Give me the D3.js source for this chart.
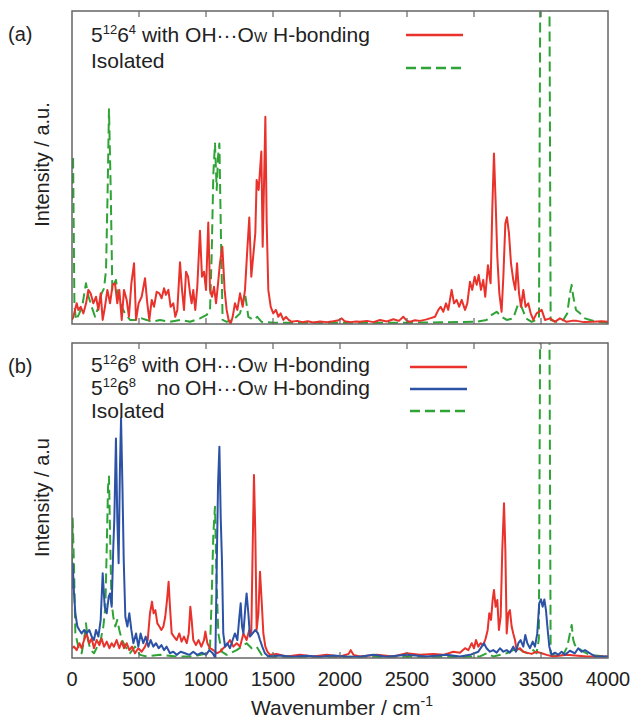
<!DOCTYPE html>
<html>
<head>
<meta charset="utf-8">
<script src="https://cdn.jsdelivr.net/npm/d3@7"></script>
<style>
  body { margin: 0; background: #fff; }
  svg text { font-family: "Liberation Sans", Arial, sans-serif; fill: #222; }
</style>
</head>
<body>
<div id="chart"></div>
<script>
// tick values on the wavenumber axis
var xTicks = [0, 500, 1000, 1500, 2000, 2500, 3000, 3500, 4000];

// spectra: [wavenumber (cm-1), intensity (fraction of panel height)]
// panel (a)
var redA = [[0,0.013],[10,0.023],[35,0.066],[47,0.045],[65,0.055],[85,0.034],[105,0.066],[122,0.109],[139,0.098],[159,0.066],[179,0.087],[197,0.045],[214,0.098],[229,0.013],[246,0.055],[264,0.109],[284,0.066],[303,0.125],[321,0.130],[338,0.066],[353,0.109],[371,0.013],[388,0.109],[408,0.077],[425,0.023],[443,0.130],[463,0.194],[478,0.013],[497,0.066],[520,0.087],[545,0.146],[562,0.066],[577,0.013],[595,0.077],[612,0.055],[632,0.103],[652,0.098],[669,0.082],[687,0.114],[701,0.093],[719,0.109],[736,0.055],[756,0.066],[771,0.023],[786,0.045],[806,0.197],[821,0.109],[836,0.045],[851,0.167],[866,0.151],[881,0.098],[893,0.066],[905,0.109],[920,0.045],[935,0.119],[955,0.298],[970,0.151],[985,0.167],[1000,0.109],[1017,0.324],[1030,0.109],[1045,0.087],[1060,0.119],[1075,0.066],[1090,0.130],[1104,0.194],[1122,0.247],[1139,0.109],[1154,0.045],[1169,0.013],[1184,0.0],[1199,0.023],[1216,0.066],[1234,0.045],[1254,0.098],[1274,0.055],[1291,0.109],[1308,0.236],[1323,0.340],[1338,0.151],[1353,0.220],[1368,0.290],[1378,0.460],[1393,0.428],[1403,0.492],[1413,0.551],[1423,0.247],[1433,0.449],[1443,0.662],[1453,0.322],[1465,0.109],[1483,0.055],[1502,0.034],[1522,0.045],[1540,0.023],[1557,0.034],[1577,0.013],[1597,0.023],[1617,0.013],[1639,0.007],[1680,0.010],[1720,0.006],[1760,0.009],[1800,0.005],[1850,0.008],[1900,0.006],[1950,0.009],[1990,0.012],[2013,0.018],[2035,0.009],[2080,0.006],[2120,0.008],[2149,0.007],[2200,0.010],[2250,0.006],[2298,0.013],[2350,0.008],[2398,0.015],[2440,0.010],[2472,0.023],[2500,0.010],[2522,0.007],[2560,0.012],[2597,0.010],[2640,0.014],[2671,0.018],[2709,0.023],[2734,0.045],[2751,0.055],[2771,0.039],[2791,0.066],[2808,0.045],[2833,0.109],[2851,0.066],[2870,0.077],[2890,0.055],[2908,0.077],[2933,0.045],[2950,0.066],[2970,0.135],[2987,0.109],[3005,0.151],[3020,0.125],[3035,0.157],[3052,0.109],[3069,0.141],[3084,0.087],[3104,0.188],[3124,0.130],[3137,0.375],[3149,0.545],[3161,0.396],[3174,0.215],[3189,0.098],[3206,0.039],[3219,0.151],[3234,0.322],[3246,0.341],[3261,0.290],[3276,0.194],[3293,0.141],[3308,0.109],[3321,0.194],[3336,0.098],[3351,0.055],[3368,0.109],[3385,0.055],[3405,0.066],[3423,0.034],[3443,0.013],[3467,0.034],[3505,0.045],[3530,0.013],[3567,0.018],[3604,0.007],[3641,0.018],[3691,0.007],[3730,0.010],[3766,0.010],[3820,0.006],[3890,0.007],[3950,0.009],[4000,0.007]];

var greenA = [[0,0.40],[8,0.537],[18,0.06],[30,0.013],[55,0.034],[80,0.066],[104,0.130],[124,0.087],[147,0.055],[172,0.023],[197,0.055],[221,0.098],[239,0.114],[254,0.173],[266,0.428],[276,0.686],[289,0.428],[301,0.109],[316,0.130],[328,0.141],[346,0.087],[371,0.055],[395,0.034],[433,0.013],[483,0.013],[520,0.018],[557,0.013],[595,0.007],[657,0.013],[731,0.007],[806,0.013],[881,0.007],[955,0.018],[1005,0.029],[1030,0.045],[1042,0.215],[1055,0.481],[1067,0.577],[1080,0.428],[1090,0.535],[1100,0.577],[1112,0.268],[1124,0.013],[1154,0.007],[1204,0.013],[1254,0.034],[1291,0.098],[1316,0.023],[1353,0.013],[1383,0.023],[1415,0.007],[1502,0.004],[2000,0.004],[2500,0.004],[3020,0.007],[3094,0.013],[3132,0.029],[3169,0.039],[3206,0.023],[3244,0.013],[3293,0.018],[3331,0.066],[3355,0.055],[3388,0.018],[3430,0.007],[3467,0.013],[3485,0.02],[3503,2.0],[3555,2.0],[3572,0.013],[3617,0.007],[3666,0.013],[3696,0.034],[3716,0.098],[3729,0.125],[3741,0.087],[3761,0.045],[3791,0.034],[3828,0.018],[3866,0.013],[3915,0.007],[4000,0.004]];

// panel (b)
var redB = [[0,0.031],[15,0.036],[35,0.025],[55,0.047],[72,0.031],[90,0.057],[109,0.078],[129,0.047],[147,0.062],[164,0.031],[184,0.057],[204,0.041],[221,0.062],[239,0.036],[259,0.052],[279,0.031],[296,0.047],[313,0.036],[333,0.057],[353,0.031],[371,0.052],[388,0.031],[408,0.047],[428,0.025],[448,0.036],[470,0.015],[495,0.031],[520,0.020],[545,0.036],[565,0.057],[582,0.142],[597,0.179],[609,0.142],[622,0.152],[637,0.110],[652,0.100],[667,0.089],[682,0.100],[696,0.131],[709,0.184],[721,0.242],[731,0.163],[744,0.078],[761,0.068],[781,0.057],[801,0.078],[818,0.052],[836,0.068],[856,0.047],[871,0.078],[883,0.163],[893,0.121],[905,0.057],[925,0.041],[945,0.057],[965,0.036],[985,0.057],[995,0.084],[1010,0.047],[1030,0.031],[1055,0.025],[1080,0.015],[1104,0.020],[1129,0.031],[1154,0.041],[1179,0.057],[1204,0.036],[1229,0.047],[1254,0.036],[1279,0.078],[1303,0.057],[1323,0.089],[1338,0.078],[1348,0.343],[1358,0.581],[1368,0.396],[1378,0.089],[1391,0.142],[1403,0.274],[1415,0.184],[1428,0.078],[1443,0.036],[1458,0.020],[1478,0.010],[1527,0.013],[1602,0.005],[1701,0.010],[1801,0.005],[1900,0.010],[2000,0.005],[2065,0.013],[2080,0.025],[2100,0.010],[2149,0.005],[2273,0.010],[2398,0.005],[2497,0.015],[2597,0.010],[2696,0.013],[2771,0.010],[2846,0.020],[2895,0.017],[2933,0.031],[2958,0.025],[2983,0.047],[3000,0.031],[3015,0.057],[3032,0.036],[3050,0.047],[3069,0.041],[3087,0.062],[3102,0.089],[3114,0.142],[3127,0.121],[3139,0.184],[3149,0.216],[3161,0.163],[3174,0.184],[3186,0.089],[3199,0.131],[3211,0.343],[3224,0.491],[3234,0.343],[3244,0.078],[3256,0.142],[3268,0.152],[3281,0.100],[3293,0.078],[3306,0.057],[3318,0.025],[3343,0.031],[3368,0.020],[3393,0.017],[3430,0.013],[3467,0.020],[3505,0.015],[3542,0.010],[3592,0.005],[3691,0.010],[3840,0.005],[4000,0.005]];

var blueB = [[0,0.22],[5,0.301],[15,0.205],[25,0.142],[40,0.100],[55,0.089],[72,0.078],[90,0.089],[109,0.078],[129,0.089],[147,0.068],[164,0.057],[179,0.089],[197,0.068],[214,0.121],[229,0.269],[244,0.163],[259,0.142],[274,0.195],[284,0.205],[296,0.163],[308,0.35],[316,0.443],[328,0.697],[338,0.443],[348,0.301],[358,0.607],[366,0.761],[376,0.554],[386,0.311],[398,0.131],[413,0.100],[428,0.142],[443,0.089],[458,0.047],[478,0.078],[495,0.036],[512,0.078],[532,0.047],[550,0.068],[570,0.036],[587,0.057],[607,0.036],[627,0.047],[647,0.031],[667,0.041],[687,0.025],[706,0.036],[731,0.015],[756,0.020],[781,0.010],[811,0.020],[843,0.015],[876,0.010],[905,0.020],[935,0.010],[968,0.017],[1000,0.010],[1025,0.025],[1050,0.015],[1070,0.0],[1080,0.290],[1090,0.554],[1100,0.671],[1110,0.443],[1119,0.311],[1129,0.078],[1142,0.036],[1159,0.047],[1179,0.031],[1199,0.057],[1216,0.078],[1234,0.057],[1249,0.131],[1259,0.174],[1269,0.100],[1279,0.078],[1294,0.163],[1303,0.205],[1316,0.142],[1328,0.068],[1348,0.078],[1368,0.089],[1388,0.078],[1403,0.057],[1420,0.036],[1440,0.015],[1465,0.005],[1550,0.008],[1650,0.004],[1750,0.007],[1850,0.004],[1950,0.008],[2050,0.005],[2149,0.004],[2248,0.010],[2348,0.004],[2497,0.010],[2647,0.005],[2796,0.010],[2895,0.005],[2970,0.010],[3032,0.020],[3057,0.036],[3074,0.047],[3094,0.031],[3119,0.020],[3144,0.025],[3169,0.017],[3194,0.031],[3219,0.020],[3244,0.025],[3268,0.017],[3293,0.036],[3313,0.020],[3331,0.047],[3348,0.057],[3368,0.036],[3383,0.073],[3398,0.047],[3418,0.031],[3438,0.052],[3455,0.036],[3472,0.078],[3487,0.174],[3500,0.186],[3512,0.163],[3525,0.186],[3537,0.152],[3550,0.089],[3562,0.036],[3579,0.010],[3604,0.017],[3629,0.010],[3654,0.020],[3679,0.010],[3716,0.023],[3753,0.015],[3778,0.031],[3803,0.020],[3828,0.025],[3865,0.015],[3903,0.005],[4000,0.005]];

var greenB = [[0,0.30],[5,0.443],[15,0.290],[25,0.078],[47,0.036],[72,0.015],[90,0.057],[104,0.110],[119,0.057],[139,0.025],[164,0.015],[189,0.036],[214,0.057],[234,0.100],[249,0.163],[259,0.343],[269,0.544],[276,0.576],[284,0.396],[294,0.184],[308,0.131],[323,0.100],[338,0.121],[353,0.089],[373,0.057],[398,0.036],[433,0.015],[470,0.036],[507,0.010],[557,0.005],[657,0.010],[781,0.005],[905,0.005],[1005,0.015],[1030,0.036],[1042,0.184],[1055,0.396],[1067,0.480],[1080,0.226],[1092,0.078],[1117,0.020],[1154,0.010],[1229,0.025],[1266,0.036],[1303,0.047],[1341,0.031],[1378,0.036],[1415,0.010],[1502,0.004],[2000,0.004],[2895,0.004],[3045,0.005],[3094,0.015],[3144,0.005],[3244,0.015],[3293,0.025],[3331,0.031],[3368,0.020],[3405,0.015],[3443,0.025],[3467,0.015],[3484,0.06],[3503,2.0],[3555,2.0],[3572,0.015],[3617,0.005],[3666,0.010],[3696,0.036],[3716,0.078],[3729,0.105],[3741,0.057],[3753,0.041],[3778,0.031],[3816,0.020],[3865,0.010],[4000,0.004]];

var RED = "#e8322b", GREEN = "#2fa336", BLUE = "#2c52a6";

var W = 640, H = 722;
var left = 72, right = 608;

var svg = d3.select("#chart").append("svg")
    .attr("width", W)
    .attr("height", H);

var x = d3.scaleLinear().domain([0, 4000]).range([left, right]);

//panel geometry
var panels = [
    { id: "a", top: 11, bottom: 324, tag: "(a)", ylab: "Intensity / a.u.",
      series: [
        { data: greenA, color: GREEN, dash: "10,5" },
        { data: redA, color: RED }
      ] },
    { id: "b", top: 343, bottom: 658, tag: "(b)", ylab: "Intensity / a.u",
      series: [
        { data: greenB, color: GREEN, dash: "10,5" },
        { data: redB, color: RED },
        { data: blueB, color: BLUE }
      ] }
];

panels.forEach(function (p) {
    var y = d3.scaleLinear().domain([0, 1]).range([p.bottom, p.top]);

    svg.append("clipPath").attr("id", "clip_" + p.id)
        .append("rect")
        .attr("x", left).attr("y", p.top)
        .attr("width", right - left).attr("height", p.bottom - p.top);

    var line = d3.line()
        .x(function (d) { return x(d[0]); })
        .y(function (d) { return y(d[1]); });

    var g = svg.append("g").attr("clip-path", "url(#clip_" + p.id + ")");
    p.series.forEach(function (s) {
        g.append("path")
            .attr("d", line(s.data))
            .attr("fill", "none")
            .attr("stroke", s.color)
            .attr("stroke-width", 2)
            .attr("stroke-linejoin", "round")
            .attr("stroke-dasharray", s.dash || null);
    });

    //frame
    svg.append("rect")
        .attr("x", left).attr("y", p.top)
        .attr("width", right - left).attr("height", p.bottom - p.top)
        .attr("fill", "none")
        .attr("stroke", "#666")
        .attr("stroke-width", 1.5);

    // inward ticks top and bottom
    var inner = xTicks.slice(1, -1);
    svg.append("g").selectAll("line.t").data(inner).enter().append("line")
        .attr("x1", x).attr("x2", x)
        .attr("y1", p.top).attr("y2", p.top + 6)
        .attr("stroke", "#666").attr("stroke-width", 1.2);
    svg.append("g").selectAll("line.b").data(inner).enter().append("line")
        .attr("x1", x).attr("x2", x)
        .attr("y1", p.bottom).attr("y2", p.bottom - 6)
        .attr("stroke", "#666").attr("stroke-width", 1.2);

    svg.append("text")
        .attr("x", 8).attr("y", p.top + 30)
        .attr("font-size", 20)
        .text(p.tag);

    var cy = (p.top + p.bottom) / 2;
    svg.append("text")
        .attr("transform", "translate(49," + (cy - 3) + ") rotate(-90)")
        .attr("text-anchor", "middle")
        .attr("font-size", 20)
        .text(p.ylab);
});

// x tick labels under panel (b)
svg.append("g").selectAll("text").data(xTicks).enter().append("text")
    .attr("x", x)
    .attr("y", 686)
    .attr("text-anchor", "middle")
    .attr("font-size", 20)
    .text(function (d) { return d; });

var xl = svg.append("text")
    .attr("x", 342).attr("y", 715)
    .attr("text-anchor", "middle")
    .attr("font-size", 21);
xl.append("tspan").text("Wavenumber / cm");
xl.append("tspan").attr("font-size", 14).attr("dy", -9).text("-1");

// legends
var LEG_FS = 21;
function cage(t, ring) {
    t.append("tspan").text("5");
    t.append("tspan").attr("font-size", 13).attr("dy", -8).text("12");
    t.append("tspan").attr("dy", 8).text("6");
    t.append("tspan").attr("font-size", 13).attr("dy", -8).text(ring);
}
function hbond(t) {
    var oh = t.append("tspan").text("OH\u00B7\u00B7\u00B7O");
    t.append("tspan").attr("font-size", 14).text("W");
    t.append("tspan").text(" H-bonding");
    return oh;
}
function legLine(y0, x0, color, dash) {
    svg.append("line")
        .attr("x1", x0).attr("x2", x0 + 57)
        .attr("y1", y0).attr("y2", y0)
        .attr("stroke", color).attr("stroke-width", 2.5)
        .attr("stroke-dasharray", dash || null);
}
// full first row; returns x where "OH" starts
function withRow(y0, ring) {
    var t = svg.append("text").attr("x", 91).attr("y", y0).attr("font-size", LEG_FS);
    cage(t, ring);
    t.append("tspan").attr("dy", 8).text(" with ");
    var oh = hbond(t);
    return oh.node().getStartPositionOfChar(0).x;
}

// panel (a) legend
withRow(42, "4");
svg.append("text").attr("x", 91).attr("y", 68).attr("font-size", LEG_FS).text("Isolated");
legLine(35, 406, RED);
legLine(68, 406, GREEN, "10,5");

// panel (b) legend
var ohX = withRow(372, "8");
var r2 = svg.append("text").attr("x", 91).attr("y", 395).attr("font-size", LEG_FS);
cage(r2, "8");
svg.append("text").attr("x", ohX - 5).attr("y", 395).attr("font-size", LEG_FS)
    .attr("text-anchor", "end").text("no");
hbond(svg.append("text").attr("x", ohX).attr("y", 395).attr("font-size", LEG_FS));
svg.append("text").attr("x", 91).attr("y", 418).attr("font-size", LEG_FS).text("Isolated");
legLine(367, 410, RED);
legLine(389, 410, BLUE);
legLine(411, 410, GREEN, "10,5");
</script>
</body>
</html>
